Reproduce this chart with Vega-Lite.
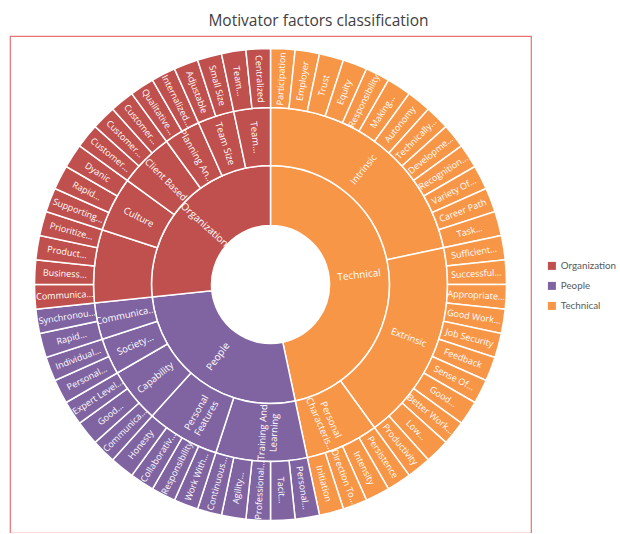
{
  "$schema": "https://vega.github.io/schema/vega-lite/v6.json",
  "width": 521,
  "height": 497,
  "padding": {"left": 10, "top": 13, "right": 0, "bottom": 0},
  "autosize": {"type": "pad"},
  "title": {"text": "Motivator factors classification", "fontSize": 15.5, "font": "Open Sans", "fontWeight": "normal", "color": "#404040", "anchor": "middle", "dx": 48, "offset": 7},
  "view": {"stroke": "#e57373", "strokeWidth": 1.2, "fill": null},
  "config": {"view": {"stroke": "#e57373", "strokeWidth": 1.2}},
  "datasets": {
    "leaves": [
      {"cat": "Technical", "sub": "Intrinsic", "leaf": "Participation", "value": 1},
      {"cat": "Technical", "sub": "Intrinsic", "leaf": "Employer", "value": 1},
      {"cat": "Technical", "sub": "Intrinsic", "leaf": "Trust", "value": 1},
      {"cat": "Technical", "sub": "Intrinsic", "leaf": "Equity", "value": 1},
      {"cat": "Technical", "sub": "Intrinsic", "leaf": "Responsibility", "value": 1},
      {"cat": "Technical", "sub": "Intrinsic", "leaf": "Making…", "value": 1},
      {"cat": "Technical", "sub": "Intrinsic", "leaf": "Autonomy", "value": 1},
      {"cat": "Technical", "sub": "Intrinsic", "leaf": "Technically…", "value": 1},
      {"cat": "Technical", "sub": "Intrinsic", "leaf": "Developme…", "value": 1},
      {"cat": "Technical", "sub": "Intrinsic", "leaf": "Recognition…", "value": 1},
      {"cat": "Technical", "sub": "Intrinsic", "leaf": "Variety Of…", "value": 1},
      {"cat": "Technical", "sub": "Intrinsic", "leaf": "Career Path", "value": 1},
      {"cat": "Technical", "sub": "Intrinsic", "leaf": "Task…", "value": 1},
      {"cat": "Technical", "sub": "Extrinsic", "leaf": "Sufficient…", "value": 1},
      {"cat": "Technical", "sub": "Extrinsic", "leaf": "Successful…", "value": 1},
      {"cat": "Technical", "sub": "Extrinsic", "leaf": "Appropriate…", "value": 1},
      {"cat": "Technical", "sub": "Extrinsic", "leaf": "Good Work…", "value": 1},
      {"cat": "Technical", "sub": "Extrinsic", "leaf": "Job Security", "value": 1},
      {"cat": "Technical", "sub": "Extrinsic", "leaf": "Feedback", "value": 1},
      {"cat": "Technical", "sub": "Extrinsic", "leaf": "Sense Of…", "value": 1},
      {"cat": "Technical", "sub": "Extrinsic", "leaf": "Good…", "value": 1},
      {"cat": "Technical", "sub": "Extrinsic", "leaf": "Better Work…", "value": 1},
      {"cat": "Technical", "sub": "Extrinsic", "leaf": "Low…", "value": 1},
      {"cat": "Technical", "sub": "Extrinsic", "leaf": "Productivity", "value": 1},
      {"cat": "Technical", "sub": "Personal\nCharacteris…", "leaf": "Persistence", "value": 1},
      {"cat": "Technical", "sub": "Personal\nCharacteris…", "leaf": "Intensity", "value": 1},
      {"cat": "Technical", "sub": "Personal\nCharacteris…", "leaf": "Direction To…", "value": 1},
      {"cat": "Technical", "sub": "Personal\nCharacteris…", "leaf": "Initiation", "value": 1},
      {"cat": "People", "sub": "Training And\nLearning", "leaf": "Personal…", "value": 1},
      {"cat": "People", "sub": "Training And\nLearning", "leaf": "Tacit…", "value": 1},
      {"cat": "People", "sub": "Training And\nLearning", "leaf": "Professional…", "value": 1},
      {"cat": "People", "sub": "Training And\nLearning", "leaf": "Agility…", "value": 1},
      {"cat": "People", "sub": "Training And\nLearning", "leaf": "Continuous…", "value": 1},
      {"cat": "People", "sub": "Personal\nFeatures", "leaf": "Work With…", "value": 1},
      {"cat": "People", "sub": "Personal\nFeatures", "leaf": "Responsibility", "value": 1},
      {"cat": "People", "sub": "Personal\nFeatures", "leaf": "Collaborativ…", "value": 1},
      {"cat": "People", "sub": "Personal\nFeatures", "leaf": "Honesty", "value": 1},
      {"cat": "People", "sub": "Capability", "leaf": "Communica…", "value": 1},
      {"cat": "People", "sub": "Capability", "leaf": "Good…", "value": 1},
      {"cat": "People", "sub": "Capability", "leaf": "Expert Level…", "value": 1},
      {"cat": "People", "sub": "Society…", "leaf": "Personal…", "value": 1},
      {"cat": "People", "sub": "Society…", "leaf": "Individual…", "value": 1},
      {"cat": "People", "sub": "Communica…", "leaf": "Rapid…", "value": 1},
      {"cat": "People", "sub": "Communica…", "leaf": "Synchronou…", "value": 1},
      {"cat": "Organization", "sub": "", "leaf": "Communica…", "value": 1},
      {"cat": "Organization", "sub": "", "leaf": "Business…", "value": 1},
      {"cat": "Organization", "sub": "", "leaf": "Product…", "value": 1},
      {"cat": "Organization", "sub": "", "leaf": "Prioritize…", "value": 1},
      {"cat": "Organization", "sub": "Culture", "leaf": "Supporting…", "value": 1},
      {"cat": "Organization", "sub": "Culture", "leaf": "Rapid…", "value": 1},
      {"cat": "Organization", "sub": "Culture", "leaf": "Dyanic", "value": 1},
      {"cat": "Organization", "sub": "Client Based", "leaf": "Customer…", "value": 1},
      {"cat": "Organization", "sub": "Client Based", "leaf": "Customer…", "value": 1},
      {"cat": "Organization", "sub": "Client Based", "leaf": "Customer…", "value": 1},
      {"cat": "Organization", "sub": "Planning An…", "leaf": "Qualitative…", "value": 1},
      {"cat": "Organization", "sub": "Planning An…", "leaf": "Internalized…", "value": 1},
      {"cat": "Organization", "sub": "Team Size", "leaf": "Adjustable", "value": 1},
      {"cat": "Organization", "sub": "Team Size", "leaf": "Small Size", "value": 1},
      {"cat": "Organization", "sub": "Team…", "leaf": "Team…", "value": 1},
      {"cat": "Organization", "sub": "Team…", "leaf": "Centralized", "value": 1}
    ]
  },
  "data": {"name": "leaves"},
  "transform": [{"window": [{"op": "row_number", "as": "rn"}]}],
  "layer": [
    {
      "transform": [
        {"aggregate": [{"op": "sum", "field": "value", "as": "value"}, {"op": "min", "field": "rn", "as": "rn"}], "groupby": ["cat"]},
        {"stack": "value", "groupby": [], "sort": [{"field": "rn", "order": "ascending"}], "as": ["t0", "t1"]},
        {"calculate": "(datum.t0 + datum.t1) / 2", "as": "tm"},
        {"calculate": "datum.tm < 30 ? datum.tm * 6 - 90 : datum.tm * 6 - 270", "as": "ang"}
      ],
      "layer": [
        {
          "mark": {"type": "arc", "radius": 59, "radius2": 119, "stroke": "white", "strokeWidth": 1.5},
          "encoding": {
            "theta": {"field": "t0", "type": "quantitative", "stack": null, "scale": {"domain": [0, 60], "range": [0, 6.283185307179586]}},
            "theta2": {"field": "t1"},
            "color": {"field": "cat", "type": "nominal", "scale": {"domain": ["Organization", "People", "Technical"], "range": ["#c0504d", "#8064a2", "#f79646"]}, "legend": {"orient": "none", "legendX": 537, "legendY": 225, "title": null, "symbolType": "square", "symbolSize": 64, "symbolStrokeWidth": 0, "labelFontSize": 9.8, "labelFont": "Lato", "labelColor": "#595959", "rowPadding": 9}}
          }
        },
        {
          "mark": {"type": "text", "radius": 89, "color": "white", "fontSize": 10, "font": "Open Sans", "align": "center", "baseline": "middle", "lineBreak": "\n"},
          "encoding": {
            "theta": {"field": "tm", "type": "quantitative", "stack": null},
            "angle": {"field": "ang", "type": "quantitative", "scale": null},
            "text": {"field": "cat", "type": "nominal"}
          }
        }
      ]
    },
    {
      "transform": [
        {"aggregate": [{"op": "sum", "field": "value", "as": "value"}, {"op": "min", "field": "rn", "as": "rn"}], "groupby": ["cat", "sub"]},
        {"stack": "value", "groupby": [], "sort": [{"field": "rn", "order": "ascending"}], "as": ["t0", "t1"]},
        {"calculate": "(datum.t0 + datum.t1) / 2", "as": "tm"},
        {"calculate": "datum.tm < 30 ? datum.tm * 6 - 90 : datum.tm * 6 - 270", "as": "ang"}
      ],
      "layer": [
        {
          "mark": {"type": "arc", "radius": 119, "radius2": 177, "stroke": "white", "strokeWidth": 1.5},
          "encoding": {
            "theta": {"field": "t0", "type": "quantitative", "stack": null},
            "theta2": {"field": "t1"},
            "color": {"field": "cat", "type": "nominal"}
          }
        },
        {
          "mark": {"type": "text", "radius": 148, "color": "white", "fontSize": 9.5, "font": "Open Sans", "align": "center", "baseline": "middle", "lineBreak": "\n"},
          "encoding": {
            "theta": {"field": "tm", "type": "quantitative", "stack": null},
            "angle": {"field": "ang", "type": "quantitative", "scale": null},
            "text": {"field": "sub", "type": "nominal"}
          }
        }
      ]
    },
    {
      "transform": [
        {"stack": "value", "groupby": [], "sort": [{"field": "rn", "order": "ascending"}], "as": ["t0", "t1"]},
        {"calculate": "(datum.t0 + datum.t1) / 2", "as": "tm"},
        {"calculate": "datum.tm < 30 ? datum.tm * 6 - 90 : datum.tm * 6 - 270", "as": "ang"}
      ],
      "layer": [
        {
          "mark": {"type": "arc", "radius": 177, "radius2": 236, "stroke": "white", "strokeWidth": 1.5},
          "encoding": {
            "theta": {"field": "t0", "type": "quantitative", "stack": null},
            "theta2": {"field": "t1"},
            "color": {"field": "cat", "type": "nominal"}
          }
        },
        {
          "mark": {"type": "text", "radius": 206, "color": "white", "fontSize": 9, "font": "Open Sans", "align": "center", "baseline": "middle"},
          "encoding": {
            "theta": {"field": "tm", "type": "quantitative", "stack": null},
            "angle": {"field": "ang", "type": "quantitative", "scale": null},
            "text": {"field": "leaf", "type": "nominal"}
          }
        }
      ]
    }
  ]
}
